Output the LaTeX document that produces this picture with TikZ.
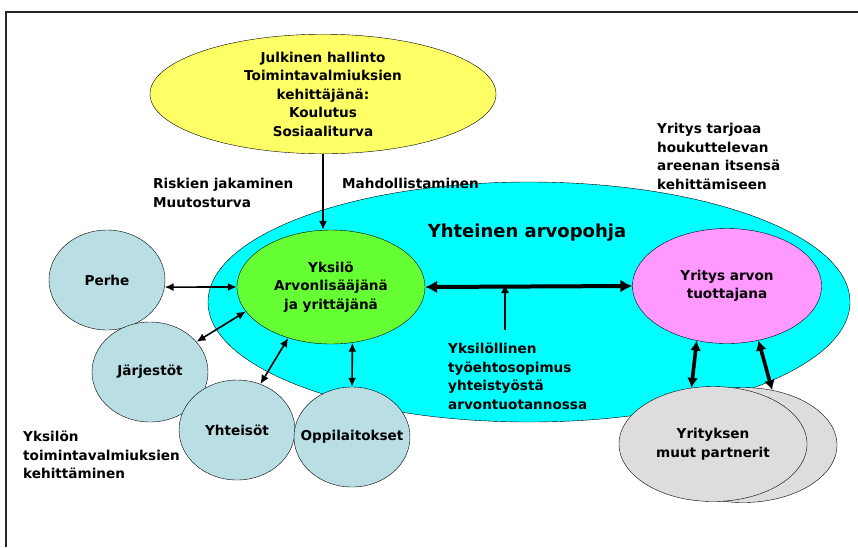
\documentclass[tikz,border=0pt]{standalone}
\usepackage{fontspec}
\setmainfont{DejaVu Sans}
\usepackage{tikz}
\usetikzlibrary{shapes.geometric, arrows.meta}
\definecolor{keltainen}{HTML}{FFFF66}
\definecolor{syaani}{HTML}{00FFFF}
\definecolor{vihrea}{HTML}{66FF33}
\definecolor{roosa}{HTML}{FF99FF}
\definecolor{vaaleansin}{HTML}{B9DEE3}
\definecolor{harmaa}{HTML}{DDDDDD}
\tikzstyle{soikio} = [ellipse, draw=black, thin, inner sep=0pt, align=center, font=\fontsize{13.6}{18.5}\selectfont\bfseries]
\tikzstyle{piiri} = [soikio, fill=vaaleansin, minimum width=116pt, minimum height=100pt]
\tikzstyle{teksti} = [anchor=north west, inner sep=0pt, align=left, font=\fontsize{13.6}{18.5}\selectfont\bfseries]
\tikzstyle{nuoli} = [line width=1.6pt, {Latex[length=9pt,width=8pt]}-{Latex[length=9pt,width=8pt]}]
\tikzstyle{paksu} = [line width=4pt, {Latex[length=12pt,width=13pt]}-{Latex[length=12pt,width=13pt]}]
\tikzstyle{keski} = [line width=3.6pt, {Latex[length=10pt,width=11pt]}-{Latex[length=10pt,width=11pt]}]

\begin{document}
\begin{tikzpicture}[x=1pt, y=-1pt]
    \useasboundingbox (0,0) rectangle (858,547);
    \draw [line width=1.6pt, black!85] (6,547) -- (6,12) -- (858,12);

    \node (arvopohja) [soikio, fill=syaani, minimum width=642pt, minimum height=240pt] at (529,302) {};
    \node (otsikko) [font=\fontsize{18}{20}\selectfont\bfseries] at (527,233) {Yhteinen arvopohja};
    \node (julkinen) [soikio, fill=keltainen, minimum width=346pt, minimum height=108pt] at (323,94) {Julkinen hallinto\\Toimintavalmiuksien\\kehittäjänä:\\Koulutus\\Sosiaaliturva};
    \node (yksilo) [soikio, fill=vihrea, minimum width=188pt, minimum height=114pt] at (331,287) {Yksilö\\Arvonlisääjänä\\ja yrittäjänä};
    \node (yritys) [soikio, fill=roosa, minimum width=189pt, minimum height=115pt] at (727,286) {Yritys arvon\\tuottajana};

    \node (partnerit2) [soikio, fill=harmaa, minimum width=188pt, minimum height=115pt] at (743,445) {};
    \node (partnerit) [soikio, fill=harmaa, minimum width=188pt, minimum height=115pt] at (713,444) {Yrityksen\\muut partnerit};

    \node (perhe) [piiri] at (107,280) {Perhe};
    \node (jarjestot) [piiri] at (150,372) {Järjestöt};
    \node (yhteisot) [piiri] at (237,430) {Yhteisöt};
    \node (oppilaitokset) [piiri] at (352,437) {\makebox[0pt]{Oppilaitokset}};

    \node (riskien) [teksti] at (153,178) {Riskien jakaminen\\Muutosturva};
    \node (mahdollistaminen) [teksti] at (342,178) {Mahdollistaminen};
    \node (tarjoaa) [teksti] at (657,123) {Yritys tarjoaa\\houkuttelevan\\areenan itsensä\\kehittämiseen};
    \node (sopimus) [teksti] at (448,343) {Yksilöllinen\\työehtosopimus\\yhteistyöstä\\arvontuotannossa};
    \node (kehittaminen) [teksti] at (23,431) {Yksilön\\toimintavalmiuksien\\kehittäminen};
    \coordinate (sopimusnuoli) at (505,330);

    \draw [line width=1.6pt, -{Latex[length=9pt,width=8pt]}] (julkinen.south) -- (julkinen.south |- yksilo.north);
    \draw [paksu] (yksilo.east) -- (yritys.west);
    \draw [line width=1.6pt, -{Latex[length=9pt,width=8pt]}] (sopimusnuoli) -- ([yshift=2pt]sopimusnuoli |- yritys.west);
    \draw [nuoli] (perhe.-7) -- (yksilo.west);
    \draw [nuoli] (jarjestot.33) -- (yksilo.-164);
    \draw [nuoli] (yhteisot.63) -- (yksilo.-130);
    \draw [nuoli] (oppilaitokset.90) -- (yksilo.-69);
    \draw [keski] (yritys.-119) -- (partnerit.111);
    \draw [keski] (yritys.-60) -- (partnerit2.62);

\end{tikzpicture}
\end{document}
